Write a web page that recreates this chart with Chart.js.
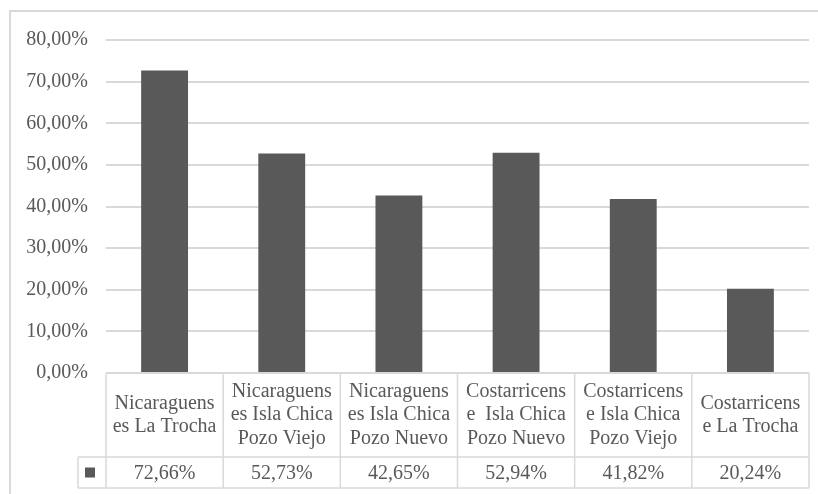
<!DOCTYPE html>
<html>
<head>
<meta charset="utf-8">
<script src="https://cdn.jsdelivr.net/npm/chart.js@4/dist/chart.umd.min.js"></script>
<style>
  html, body { margin: 0; padding: 0; background: #fff; }
  #wrap { width: 818px; height: 494px; }
</style>
</head>
<body>
<div id="wrap"><canvas id="bar-chart" width="818" height="494"></canvas></div>
<script>
var categories = [
  ["Nicaraguens", "es La Trocha"],
  ["Nicaraguens", "es Isla Chica", "Pozo Viejo"],
  ["Nicaraguens", "es Isla Chica", "Pozo Nuevo"],
  ["Costarricens", "e  Isla Chica", "Pozo Nuevo"],
  ["Costarricens", "e Isla Chica", "Pozo Viejo"],
  ["Costarricens", "e La Trocha"]
];
var values = [72.66, 52.73, 42.65, 52.94, 41.82, 20.24];
var yTicks = [0, 10, 20, 30, 40, 50, 60, 70, 80];

var textColor = "#595959";
var lineColor = "#d9d9d9";
var fontFamily = "'Liberation Serif'";

function pct(v) {
  return v.toFixed(2).replace('.', ',') + '%';
}

// outer frame + data table under the bars
var dataTable = {
  id: 'dataTable',
  beforeDraw: function(chart) {
    var ctx = chart.ctx;
    ctx.save();
    ctx.strokeStyle = lineColor;
    ctx.lineWidth = 2;
    ctx.beginPath();
    ctx.moveTo(10, 494);
    ctx.lineTo(10, 11);
    ctx.lineTo(818, 11);
    ctx.stroke();
    ctx.restore();
  },
  afterDraw: function(chart) {
    var ctx = chart.ctx;
    var x = chart.scales.x;
    var area = chart.chartArea;
    var top = area.bottom;
    var mid = top + 84;
    var bottom = top + 115;
    var legendLeft = area.left - 28;
    var colW = (area.right - area.left) / categories.length;

    ctx.save();
    ctx.strokeStyle = lineColor;
    ctx.lineWidth = 1.5;
    ctx.beginPath();
    ctx.moveTo(area.left, top); ctx.lineTo(area.right, top);
    ctx.moveTo(legendLeft, mid); ctx.lineTo(area.right, mid);
    ctx.moveTo(legendLeft, bottom); ctx.lineTo(area.right, bottom);
    ctx.moveTo(legendLeft, mid); ctx.lineTo(legendLeft, bottom);
    for (var i = 0; i <= categories.length; i++) {
      var cx = (i < categories.length) ? x.getPixelForValue(i) - colW / 2 : x.getPixelForValue(i - 1) + colW / 2;
      ctx.moveTo(cx, top); ctx.lineTo(cx, bottom);
    }
    ctx.stroke();

    ctx.fillStyle = textColor;
    ctx.font = "20px " + fontFamily;
    ctx.textAlign = "center";
    ctx.textBaseline = "middle";
    var lh = 23.5;
    categories.forEach(function(lines, i) {
      var cx = x.getPixelForValue(i);
      var y0 = (top + mid) / 2 - (lines.length - 1) * lh / 2;
      lines.forEach(function(t, k) {
        ctx.fillText(t, cx, y0 + k * lh);
      });
      ctx.fillText(pct(values[i]), cx, (mid + bottom) / 2 + 1);
    });

    // legend key
    ctx.fillRect(legendLeft + 7, (mid + bottom) / 2 - 5, 10, 10);
    ctx.restore();
  }
};

new Chart(document.getElementById("bar-chart"), {
  type: 'bar',
  data: {
    labels: categories,
    datasets: [{
      label: "Serie1",
      backgroundColor: textColor,
      data: values,
      barPercentage: 0.4,
      categoryPercentage: 1
    }]
  },
  options: {
    responsive: false,
    animation: false,
    layout: { padding: { top: 40, right: 9, bottom: 6, left: 0 } },
    plugins: {
      legend: { display: false },
      tooltip: { enabled: false }
    },
    scales: {
      x: {
        grid: { display: false },
        border: { display: false },
        ticks: { display: false },
        afterFit: function(scale) { scale.height = 115; }
      },
      y: {
        min: 0,
        max: 80,
        afterBuildTicks: function(scale) {
          scale.ticks = yTicks.map(function(v) { return { value: v }; });
        },
        afterFit: function(scale) { scale.width = 106; },
        grid: { color: lineColor, lineWidth: 2, drawTicks: false },
        border: { display: false },
        ticks: {
          padding: 18,
          color: textColor,
          font: { family: fontFamily, size: 20 },
          callback: function(v) { return pct(v); }
        }
      }
    }
  },
  plugins: [dataTable]
});
</script>
</body>
</html>
